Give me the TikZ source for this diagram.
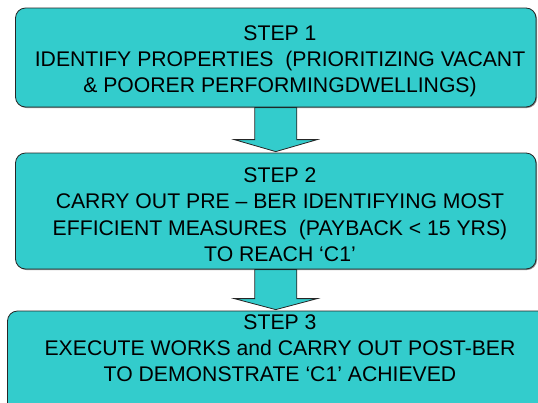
\documentclass[tikz,border=0pt]{standalone}
\usepackage{fontspec}
\setmainfont{Liberation Sans}
\usetikzlibrary{calc,shadows,backgrounds}
\definecolor{stepfill}{RGB}{51,204,204}
\definecolor{stepline}{RGB}{38,38,38}
\begin{document}
\begin{tikzpicture}[x=1pt,y=-1pt,
  stepbox/.style={rectangle, draw=stepline, line width=0.8pt, fill=stepfill,
    rounded corners=10pt, inner sep=0pt,
    drop shadow={shadow xshift=1pt, shadow yshift=-1pt, opacity=0.45, fill=black}},
  steptext/.style={anchor=north, inner sep=0pt, align=center, text=black,
    font=\fontsize{21.2}{26}\selectfont},
  flowarrow/.style={draw=stepline, line width=0.8pt, fill=stepfill, line join=miter}]
\useasboundingbox (0,0) rectangle (538,402);

% the three step boxes
\node[stepbox, minimum width=520.5pt, minimum height=99pt]  (s1) at (275.75,57.5) {};
\node[stepbox, minimum width=520.5pt, minimum height=116pt] (s2) at (275.75,211) {};
\node[stepbox, minimum width=557.5pt, minimum height=118pt] (s3) at (286.25,370) {};

% step texts
\node[steptext] (t1) at (280,25.5)
  {STEP 1\\IDENTIFY PROPERTIES\ \ (PRIORITIZING VACANT\\\& POORER PERFORMINGDWELLINGS)};
\node[steptext, font=\fontsize{21.2}{26.5}\selectfont] (t2) at (280,167)
  {STEP 2\\CARRY OUT PRE – BER IDENTIFYING MOST\\EFFICIENT MEASURES\ \ (PAYBACK < 15 YRS)\\TO REACH ‘C1’};
\node[steptext] (t3) at (280,314.5)
  {STEP 3\\EXECUTE WORKS and CARRY OUT POST-BER\\TO DEMONSTRATE ‘C1’ ACHIEVED};

% arrow tips: below the centre of the upper box, on the top edge of the lower box
\coordinate (tip1) at (s1.south |- s2.north);
\coordinate (tip2) at (s2.south |- s3.north);

% block arrows between the steps, behind the boxes
\begin{pgfonlayer}{background}
\draw[flowarrow] ($(s1.south)+(-21,0)$) -- ($(tip1)+(-21,-13)$)
  -- ($(tip1)+(-41.5,-13)$) -- ($(tip1)+(0,-1)$)
  -- ($(tip1)+(41.5,-13)$) -- ($(tip1)+(21,-13)$)
  -- ($(s1.south)+(21,0)$) -- cycle;
\draw[flowarrow] ($(s2.south)+(-21,0)$) -- ($(tip2)+(-21,-12)$)
  -- ($(tip2)+(-41.5,-12)$) -- ($(tip2)+(0,-1)$)
  -- ($(tip2)+(41.5,-12)$) -- ($(tip2)+(21,-12)$)
  -- ($(s2.south)+(21,0)$) -- cycle;
\end{pgfonlayer}
\end{tikzpicture}
\end{document}
